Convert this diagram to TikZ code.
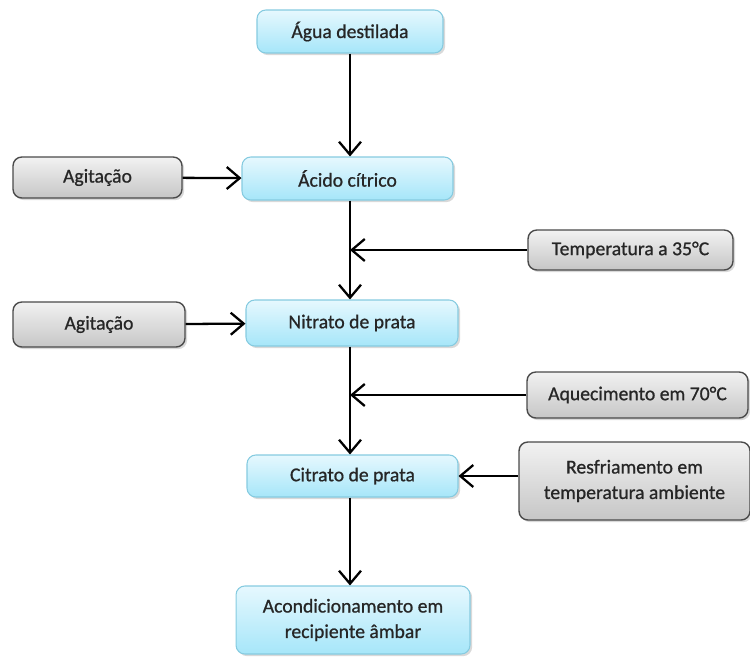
\documentclass[tikz,border=0pt]{standalone}
\usepackage{fontspec}
\setmainfont{Carlito}
\newfontfamily\boxfont[FakeBold=0.8]{Carlito}
\usetikzlibrary{arrows.meta,shadows}

\definecolor{bluetop}{HTML}{E6F8FE}
\definecolor{bluebot}{HTML}{A6E6F9}
\definecolor{blueline}{HTML}{86CBE0}
\definecolor{graytop}{HTML}{F2F2F2}
\definecolor{graybot}{HTML}{C6C6C6}
\definecolor{grayline}{HTML}{4A4A4A}

\tikzset{
	box/.style={rectangle,rounded corners=5pt,align=center,inner sep=2pt,
		font=\boxfont\fontsize{11.2}{14.5}\selectfont,text=black!85,
		drop shadow={shadow xshift=1.2pt,shadow yshift=-1.2pt,opacity=.3}},
	stage/.style={box,draw=blueline,line width=.6pt,top color=bluetop,bottom color=bluebot},
	cond/.style={box,draw=grayline,line width=.8pt,top color=graytop,bottom color=graybot},
	flow/.style={line width=1.3pt,-{Straight Barb[length=2.6mm,width=4.4mm,line width=1.3pt]}}
}

\begin{document}
\begin{tikzpicture}
	[x=0.02cm,y=-0.02cm]
	\useasboundingbox (0,0) rectangle (750,656);
	% main line
	\node (agua) [stage,minimum width=3.72cm,minimum height=0.86cm] at (350,31.5) {Água destilada};
	\node (acido) [stage,minimum width=4.22cm,minimum height=0.86cm] at (347.5,178.5) {Ácido cítrico};
	\node (nitrato) [stage,minimum width=4.24cm,minimum height=0.92cm] at (352,323) {Nitrato de prata};
	\node (citrato) [stage,minimum width=4.22cm,minimum height=0.84cm] at (352.5,476) {Citrato de prata};
	\node (acond) [stage,minimum width=4.68cm,minimum height=1.36cm] at (353,620) {Acondicionamento em\\recipiente âmbar};
	% conditions
	\node (agit1) [cond,minimum width=3.38cm,minimum height=0.82cm] at (97.5,177.5) {Agitação};
	\node (agit2) [cond,minimum width=3.44cm,minimum height=0.9cm] at (99,324.5) {Agitação};
	\node (temp) [cond,minimum width=4.1cm,minimum height=0.8cm] at (630.5,250) {Temperatura a 35°C};
	\node (aquec) [cond,minimum width=4.42cm,minimum height=0.92cm] at (637.5,395) {Aquecimento em 70°C};
	\node (resfr) [cond,minimum width=4.62cm,minimum height=1.56cm] at (634.5,481) {Resfriamento em\\temperatura ambiente};
	\coordinate (j1) at (350,250);
	\coordinate (j2) at (350,395);
	\draw [flow] (agua.south -| j1) -- (acido.north -| j1);
	\draw [flow] (acido.south -| j1) -- (nitrato.north -| j1);
	\draw [flow] (nitrato.south -| j1) -- (citrato.north -| j1);
	\draw [flow] (citrato.south -| j1) -- (acond.north -| j1);
	\draw [flow] (agit1) -- (acido);
	\draw [flow] (agit2) -- (nitrato);
	\draw [flow] (temp) -- (j1);
	\draw [flow] (aquec) -- (j2);
	\draw [flow] (resfr.west |- citrato) -- (citrato);
\end{tikzpicture}
\end{document}
